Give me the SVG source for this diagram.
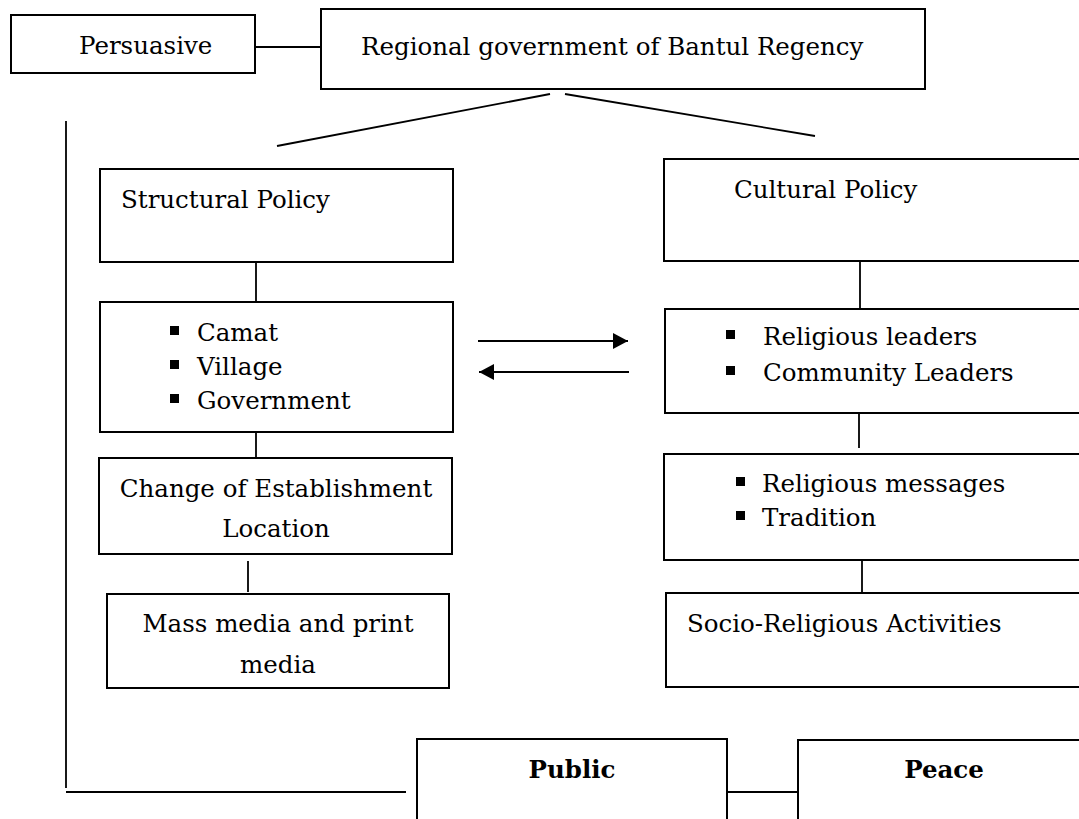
<svg xmlns="http://www.w3.org/2000/svg" width="1079" height="819" viewBox="0 0 1079 819">
  <style>
    .box { fill: #ffffff; stroke: #000000; stroke-width: 2; }
    .ln { fill: none; stroke: #000000; stroke-width: 1.8; }
    .t { font-family: "DejaVu Serif", "Liberation Serif", serif; font-size: 24.5px; fill: #000000; }
    .c { text-anchor: middle; }
    .b { font-weight: bold; }
    .bul { fill: #000000; }
  </style>
  <defs>
    <marker id="ah" markerUnits="userSpaceOnUse" markerWidth="16" markerHeight="18" refX="15" refY="8" orient="auto">
      <path d="M0,0 L15,8 L0,16 Z" fill="#000000"/>
    </marker>
  </defs>
  <rect width="1079" height="819" fill="#ffffff"/>

  <g id="connectors">
    <line class="ln" x1="255" y1="47" x2="321" y2="47"/>
    <line class="ln" x1="550" y1="94" x2="277" y2="146"/>
    <line class="ln" x1="565" y1="94" x2="815" y2="136"/>
    <line class="ln" x1="66" y1="121" x2="66" y2="788"/>
    <line class="ln" x1="66" y1="792" x2="406" y2="792"/>
    <line class="ln" x1="256" y1="262" x2="256" y2="302"/>
    <line class="ln" x1="860" y1="254" x2="860" y2="309"/>
    <line class="ln" x1="478" y1="341" x2="628" y2="341" marker-end="url(#ah)"/>
    <line class="ln" x1="629" y1="372" x2="479" y2="372" marker-end="url(#ah)"/>
    <line class="ln" x1="256" y1="418" x2="256" y2="458"/>
    <line class="ln" x1="859" y1="411" x2="859" y2="448"/>
    <line class="ln" x1="248" y1="561" x2="248" y2="592"/>
    <line class="ln" x1="862" y1="560" x2="862" y2="593"/>
    <line class="ln" x1="727" y1="792" x2="798" y2="792"/>
  </g>

  <g id="persuasive">
    <rect class="box" x="11" y="15" width="244" height="58"/>
    <text class="t" x="79" y="54">Persuasive</text>
  </g>

  <g id="regional-government">
    <rect class="box" x="321" y="9" width="604" height="80"/>
    <text class="t" x="361" y="55">Regional government of Bantul Regency</text>
  </g>

  <g id="structural-policy">
    <rect class="box" x="100" y="169" width="353" height="93"/>
    <text class="t" x="121" y="208">Structural Policy</text>
  </g>

  <g id="cultural-policy">
    <rect class="box" x="664" y="159" width="430" height="102"/>
    <text class="t" x="734" y="198">Cultural Policy</text>
  </g>

  <g id="camat-village-government">
    <rect class="box" x="100" y="302" width="353" height="130"/>
    <rect class="bul" x="170" y="326" width="9" height="9"/>
    <text class="t" x="197" y="341">Camat</text>
    <rect class="bul" x="170" y="360" width="9" height="9"/>
    <text class="t" x="197" y="375">Village</text>
    <rect class="bul" x="170" y="394" width="9" height="9"/>
    <text class="t" x="197" y="409">Government</text>
  </g>

  <g id="leaders">
    <rect class="box" x="665" y="309" width="430" height="104"/>
    <rect class="bul" x="726" y="330" width="9" height="9"/>
    <text class="t" x="763" y="345">Religious leaders</text>
    <rect class="bul" x="726" y="366" width="9" height="9"/>
    <text class="t" x="763" y="381">Community Leaders</text>
  </g>

  <g id="change-of-establishment">
    <rect class="box" x="99" y="458" width="353" height="96"/>
    <text class="t c" x="276" y="497">Change of Establishment</text>
    <text class="t c" x="276" y="537">Location</text>
  </g>

  <g id="religious-messages">
    <rect class="box" x="664" y="454" width="430" height="106"/>
    <rect class="bul" x="736" y="477" width="9" height="9"/>
    <text class="t" x="762" y="492">Religious messages</text>
    <rect class="bul" x="736" y="511" width="9" height="9"/>
    <text class="t" x="762" y="526">Tradition</text>
  </g>

  <g id="mass-media">
    <rect class="box" x="107" y="594" width="342" height="94"/>
    <text class="t c" x="278" y="632">Mass media and print</text>
    <text class="t c" x="278" y="673">media</text>
  </g>

  <g id="socio-religious">
    <rect class="box" x="666" y="593" width="430" height="94"/>
    <text class="t" x="687" y="632">Socio-Religious Activities</text>
  </g>

  <g id="public">
    <rect class="box" x="417" y="739" width="310" height="100"/>
    <text class="t c b" x="572" y="778">Public</text>
  </g>

  <g id="peace">
    <rect class="box" x="798" y="740" width="300" height="100"/>
    <text class="t c b" x="944" y="778">Peace</text>
  </g>
</svg>
